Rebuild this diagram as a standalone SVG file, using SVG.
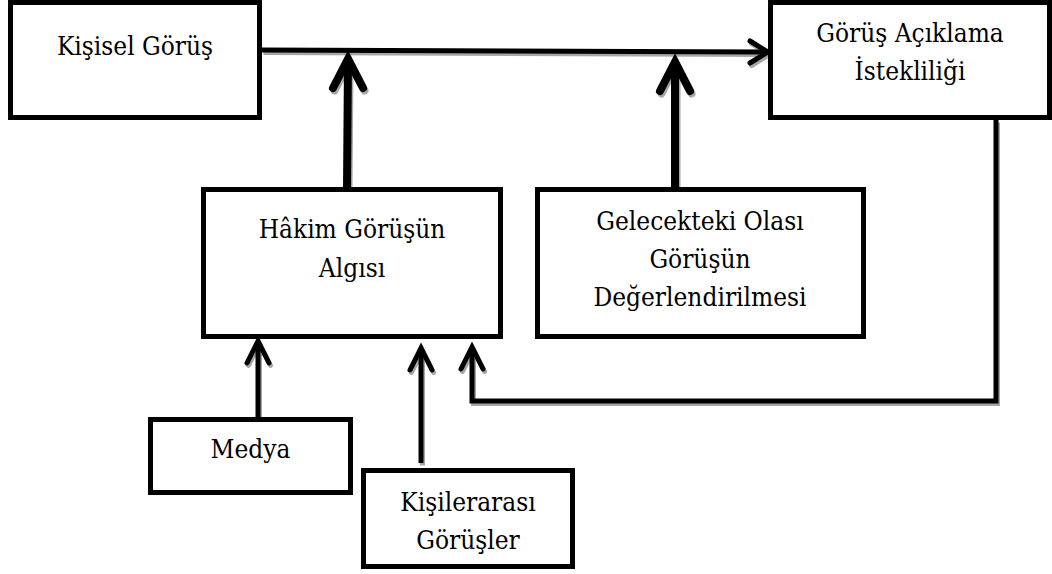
<svg xmlns="http://www.w3.org/2000/svg" width="1052" height="574" viewBox="0 0 1052 574">
<style>
.box{fill:#fff;stroke:#000;stroke-width:5}
text{font-family:'DejaVu Serif Condensed','DejaVu Serif',serif;font-stretch:condensed;font-size:26px;fill:#000;text-anchor:middle}
.c{fill:none;stroke-linejoin:miter;stroke-linecap:butt}
.thin{stroke-width:5}
.thick{stroke-width:8}
.hd{fill:none;stroke-linecap:round;stroke-linejoin:miter}
.blk{stroke:#000}
.sh{stroke:#a6a6a6}
</style>
<defs>
<g id="conns">
<path class="c thin" d="M262,50 L766,52"/>
<path class="hd thin" d="M750,41 L768,52 L750,63"/>
<path class="c thick" d="M347,189 L348,60"/>
<path class="hd thick" d="M333,88 L348,59 L363,88"/>
<path class="c thick" d="M675,189 L675,63"/>
<path class="hd thick" d="M660,91 L675,62 L690,91"/>
<path class="c thin" d="M258,419 L258,343"/>
<path class="hd thin" d="M247,363 L258,341 L269,363"/>
<path class="c thin" d="M421,463 L421,350"/>
<path class="hd thin" d="M410,370 L421,348 L432,370"/>
<path class="c thin" d="M996,120 L996,401 L472,401 L472,350"/>
<path class="hd thin" d="M461,369 L472,347 L483,369"/>
</g>
</defs>
<g id="connectors">
<use href="#conns" class="sh" transform="translate(1.5,2.5)"/>
<use href="#conns" class="blk"/>
</g>
<g id="kisisel">
<rect class="box" x="10.5" y="2.5" width="249" height="115"/>
<text x="135" y="55">Kişisel Görüş</text>
</g>
<g id="gorus-aciklama">
<rect class="box" x="770.5" y="2.5" width="279" height="115"/>
<text x="910" y="42">Görüş Açıklama</text>
<text x="910" y="80">İstekliliği</text>
</g>
<g id="hakim">
<rect class="box" x="203.5" y="189.5" width="297" height="147"/>
<text x="352" y="238">Hâkim Görüşün</text>
<text x="352" y="277">Algısı</text>
</g>
<g id="gelecekteki">
<rect class="box" x="537.5" y="189.5" width="326" height="147"/>
<text x="700" y="230">Gelecekteki Olası</text>
<text x="700" y="268">Görüşün</text>
<text x="700" y="306">Değerlendirilmesi</text>
</g>
<g id="medya">
<rect class="box" x="150.5" y="419.5" width="200" height="73"/>
<text x="250.5" y="458">Medya</text>
</g>
<g id="kisilerarasi">
<rect class="box" x="363.5" y="470.5" width="209" height="96"/>
<text x="468" y="511">Kişilerarası</text>
<text x="468" y="549">Görüşler</text>
</g>
</svg>
